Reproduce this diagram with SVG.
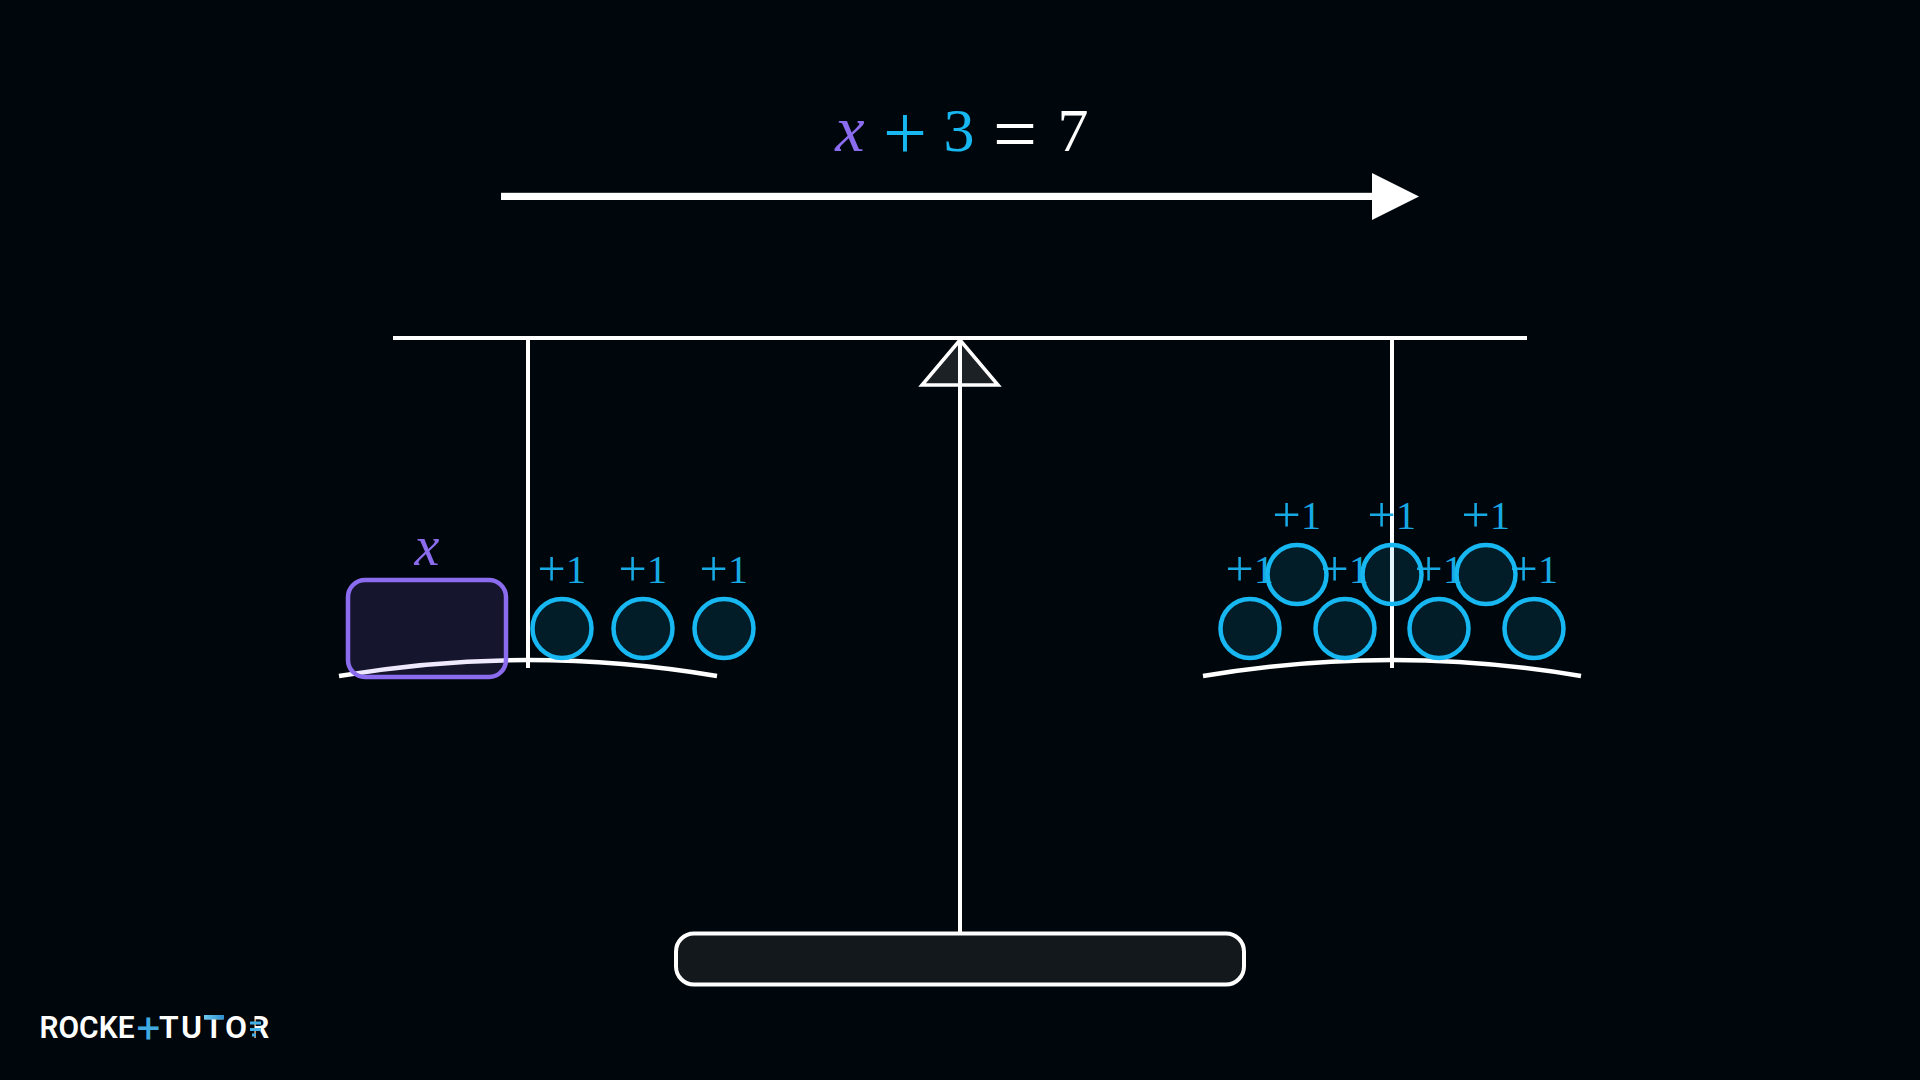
<svg xmlns="http://www.w3.org/2000/svg" width="1920" height="1080" viewBox="0 0 1920 1080">
<defs>
<linearGradient id="tbar" x1="0" x2="1" y1="0" y2="0"><stop offset="0" stop-color="#6cc9ee"/><stop offset="1" stop-color="#2f8fd0"/></linearGradient>
</defs>
<style>
.w{fill:none;stroke:#fff;stroke-width:4}
.p{fill:none;stroke:#fff;stroke-width:4.500}
.c{fill:#14b9f5;fill-opacity:.12;stroke:#17b7f2;stroke-width:4.500}
.l{font-family:"Liberation Serif",serif;font-size:40px;fill:#17a9e3;text-anchor:middle;letter-spacing:.5px}
.l tspan.s{font-size:50px}
.m{font-family:"Liberation Serif",serif;font-size:62px;text-anchor:middle}
.logo{font-family:"Roboto",sans-serif;font-weight:600;font-size:32px;fill:#fff}
</style>
<rect id="background" width="1920" height="1080" fill="#00070c"/>

<g id="arrow">
<rect x="501" y="192.800" width="872" height="7.200" fill="#fff"/>
<polygon points="1372,173 1419,196.500 1372,220" fill="#fff"/>
</g>

<g id="equation">
<text class="m" x="850" y="151" fill="#8b6cef" font-style="italic" style="font-size:66px">x</text>
<text class="m" x="905" y="151" fill="#17b7f2" style="font-size:78px" dy="8">+</text>
<text class="m" x="959" y="151" fill="#17b7f2">3</text>
<text class="m" x="1015" y="151" fill="#fff" style="font-size:78px" dy="9">=</text>
<text class="m" x="1073" y="151" fill="#fff">7</text>
</g>

<g id="connectors">
<line class="w" x1="393" y1="338" x2="1527" y2="338"/>
<line class="w" x1="528" y1="338" x2="528" y2="668"/>
<line class="w" x1="1392" y1="338" x2="1392" y2="668"/>
</g>

<g id="fulcrum">
<polygon points="960,340 922,385 998,385" fill="#1c2125" stroke="#fff" stroke-width="3.500"/>
<line class="w" x1="960" y1="340" x2="960" y2="933"/>
</g>

<g id="base">
<rect x="676" y="933.500" width="568" height="51" rx="18" fill="#13181c" stroke="#fff" stroke-width="4"/>
</g>

<g id="left-pan">
<path class="p" d="M339 676Q528 644 717 676"/>
</g>
<g id="right-pan">
<path class="p" d="M1203 676Q1392 644 1581 676"/>
</g>

<g id="x-block">
<text x="427" y="565" font-family="Liberation Serif, serif" font-style="italic" font-size="56" fill="#8b6cef" text-anchor="middle">x</text>
<rect x="348" y="580" width="158" height="97" rx="17" fill="#8b6cef" fill-opacity=".15" stroke="#8b6cef" stroke-width="4.500"/>
</g>

<g id="left-unit-1"><text class="l" x="562" y="583"><tspan class="s" dy="3">+</tspan><tspan dy="-3">1</tspan></text><circle class="c" cx="562" cy="628.500" r="29.500"/></g>
<g id="left-unit-2"><text class="l" x="643" y="583"><tspan class="s" dy="3">+</tspan><tspan dy="-3">1</tspan></text><circle class="c" cx="643" cy="628.500" r="29.500"/></g>
<g id="left-unit-3"><text class="l" x="724" y="583"><tspan class="s" dy="3">+</tspan><tspan dy="-3">1</tspan></text><circle class="c" cx="724" cy="628.500" r="29.500"/></g>

<g id="right-unit-1"><text class="l" x="1250" y="583"><tspan class="s" dy="3">+</tspan><tspan dy="-3">1</tspan></text><circle class="c" cx="1250" cy="628.500" r="29.500"/></g>
<g id="right-unit-2"><text class="l" x="1345" y="583"><tspan class="s" dy="3">+</tspan><tspan dy="-3">1</tspan></text><circle class="c" cx="1345" cy="628.500" r="29.500"/></g>
<g id="right-unit-3"><text class="l" x="1439" y="583"><tspan class="s" dy="3">+</tspan><tspan dy="-3">1</tspan></text><circle class="c" cx="1439" cy="628.500" r="29.500"/></g>
<g id="right-unit-4"><text class="l" x="1534" y="583"><tspan class="s" dy="3">+</tspan><tspan dy="-3">1</tspan></text><circle class="c" cx="1534" cy="628.500" r="29.500"/></g>
<g id="right-unit-5"><text class="l" x="1297" y="529"><tspan class="s" dy="3">+</tspan><tspan dy="-3">1</tspan></text><circle class="c" cx="1297" cy="574.500" r="29.500"/></g>
<g id="right-unit-6"><text class="l" x="1392" y="529"><tspan class="s" dy="3">+</tspan><tspan dy="-3">1</tspan></text><circle class="c" cx="1392" cy="574.500" r="29.500"/></g>
<g id="right-unit-7"><text class="l" x="1486" y="529"><tspan class="s" dy="3">+</tspan><tspan dy="-3">1</tspan></text><circle class="c" cx="1486" cy="574.500" r="29.500"/></g>

<g id="logo">
<text class="logo" x="39.500" y="1038" textLength="95" lengthAdjust="spacingAndGlyphs">ROCKE</text>
<text class="logo" x="148.500" y="1042.500" text-anchor="middle" style="font-size:42px;font-weight:400;fill:#3fa9e0">+</text>
<text class="logo" x="159 181 204 225 249" y="1038">TUTOR</text>
<rect x="204" y="1015" width="20" height="4.500" fill="url(#tbar)"/>
<rect x="248.500" y="1014" width="6" height="25" fill="#00070c"/>
<rect x="250" y="1021.500" width="11" height="3" fill="#45b0e6"/>
<rect x="250" y="1028" width="11" height="3" fill="#45b0e6"/>
<rect x="252" y="1033.500" width="4" height="3" fill="#45b0e6"/>
</g>
</svg>
